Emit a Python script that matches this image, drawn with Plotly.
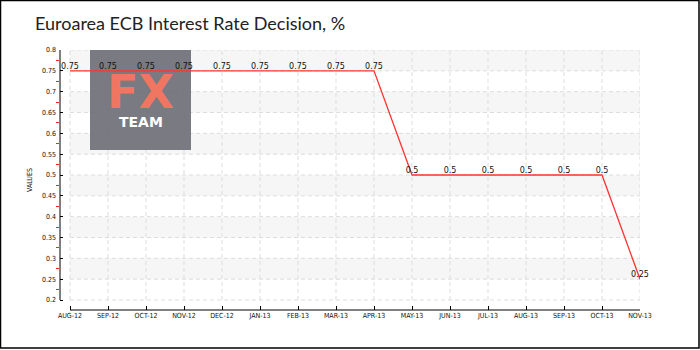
import plotly.graph_objects as go

# ECB main refinancing rate decisions, monthly
months = ["AUG-12", "SEP-12", "OCT-12", "NOV-12", "DEC-12", "JAN-13", "FEB-13", "MAR-13",
          "APR-13", "MAY-13", "JUN-13", "JUL-13", "AUG-13", "SEP-13", "OCT-13", "NOV-13"]
rates = [0.75, 0.75, 0.75, 0.75, 0.75, 0.75, 0.75, 0.75,
         0.75, 0.5, 0.5, 0.5, 0.5, 0.5, 0.5, 0.25]
y_ticks = [0.2, 0.25, 0.3, 0.35, 0.4, 0.45, 0.5, 0.55, 0.6, 0.65, 0.7, 0.75, 0.8]
y_tick_text = ["0.2", "0.25", "0.3", "0.35", "0.4", "0.45", "0.5", "0.55",
               "0.6", "0.65", "0.7", "0.75", "0.8"]

W, H = 700, 350
ML, MR, MT, MB = 60, 60, 50, 40
pw, ph = W - ML - MR, H - MT - MB
idx = list(range(len(months)))
n_last = idx[-1]
px_per_x = pw / (n_last + 10 / 38)
x_lo = -10 / px_per_x
y_min, y_max = y_ticks[0], y_ticks[-1]
px_per_y = (ph - 10) / (y_max - y_min)
y_lo = y_min - 10 / px_per_y

tick_font = dict(family="DejaVu Sans Condensed, DejaVu Sans, sans-serif", size=7, color="#111")

shapes = []
# alternating horizontal bands
for i in range(len(y_ticks) - 1):
    if (len(y_ticks) - 2 - i) % 2 == 0:
        shapes.append(dict(type="rect", xref="x", yref="y", x0=0, x1=n_last,
                           y0=y_ticks[i], y1=y_ticks[i + 1],
                           fillcolor="#f6f6f6", line_width=0, layer="below"))
# dashed grid
for yv in y_ticks:
    shapes.append(dict(type="line", xref="x", yref="y", x0=0, x1=n_last, y0=yv, y1=yv,
                       line=dict(color="#dddddd", width=1, dash="4px,3px"), layer="below"))
for xv in idx:
    shapes.append(dict(type="line", xref="x", yref="y", x0=xv, x1=xv, y0=y_min, y1=y_max,
                       line=dict(color="#dddddd", width=1, dash="4px,3px"), layer="below"))
# logo panel (100 x 100 px, top-left at 20 px right of the first month)
logo_x0 = 20 / px_per_x
logo_x1 = 121 / px_per_x
logo_y1 = y_max
logo_y0 = y_max - 100 / px_per_y
shapes.append(dict(type="rect", xref="x", yref="y",
                   x0=logo_x0, x1=logo_x1, y0=logo_y0, y1=logo_y1,
                   fillcolor="rgba(112,112,120,0.93)", line_width=0, layer="below"))
# offset axis lines
shapes.append(dict(type="line", xref="paper", yref="y", x0=0, x1=0, y0=y_min, y1=y_max,
                   line=dict(color="#000", width=1)))
shapes.append(dict(type="line", xref="x", yref="paper", x0=0, x1=n_last, y0=0, y1=0,
                   line=dict(color="#000", width=1)))
# outer frame
shapes.append(dict(type="rect", xref="paper", yref="paper",
                   x0=(-ML + 0.5) / pw, x1=(pw + MR - 1.0) / pw,
                   y0=(-MB + 2.0) / ph, y1=(ph + MT - 0.5) / ph,
                   line=dict(color="#000", width=1.5), fillcolor="rgba(0,0,0,0)"))

fig = go.Figure()
fig.add_trace(go.Scatter(
    x=idx, y=rates, mode="lines+text",
    line=dict(color="#ff3333", width=1.3),
    text=[f"{v:g}" for v in rates], textposition="top center",
    textfont=dict(family="DejaVu Sans, sans-serif", size=8, color="#111"),
    cliponaxis=False, hoverinfo="skip",
))

logo_cx = (logo_x0 + logo_x1) / 2
annotations = [
    dict(text="<b>FX</b>", xref="x", yref="y", x=logo_cx, y=y_max - 42 / px_per_y,
         xanchor="center", yanchor="middle", showarrow=False,
         font=dict(family="DejaVu Sans, sans-serif", size=46, color="#f07662")),
    dict(text="<b>TEAM</b>", xref="x", yref="y", x=logo_cx, y=y_max - 72 / px_per_y,
         xanchor="center", yanchor="middle", showarrow=False,
         font=dict(family="DejaVu Sans, sans-serif", size=14, color="#ffffff")),
]

fig.update_layout(
    width=W, height=H, margin=dict(l=ML, r=MR, t=MT, b=MB),
    paper_bgcolor="#ffffff", plot_bgcolor="#ffffff", showlegend=False,
    title=dict(text="Euroarea ECB Interest Rate Decision, %", x=35 / W, xanchor="left",
               y=1 - 24 / H, yanchor="middle",
               font=dict(family="Lato, sans-serif", size=18, color="#222")),
    shapes=shapes, annotations=annotations,
    xaxis=dict(range=[x_lo, n_last], tickvals=idx, ticktext=months, showgrid=False,
               zeroline=False, showline=False, ticks="inside", ticklen=4, tickcolor="#000",
               tickfont=tick_font, fixedrange=True),
    yaxis=dict(range=[y_lo, y_max], tickvals=y_ticks, ticktext=y_tick_text, showgrid=False,
               zeroline=False, showline=False, ticks="inside", ticklen=3, tickcolor="#000",
               tickfont=tick_font, ticklabelstandoff=3,
               minor=dict(ticks="outside", ticklen=3, tickcolor="#ff2222",
                          tick0=0.225, dtick=0.05, showgrid=False),
               title=dict(text="VALUES", standoff=8,
                          font=dict(family="DejaVu Sans Condensed, DejaVu Sans, sans-serif",
                                    size=7, color="#111")),
               fixedrange=True),
)

fig.write_html("out.html")
